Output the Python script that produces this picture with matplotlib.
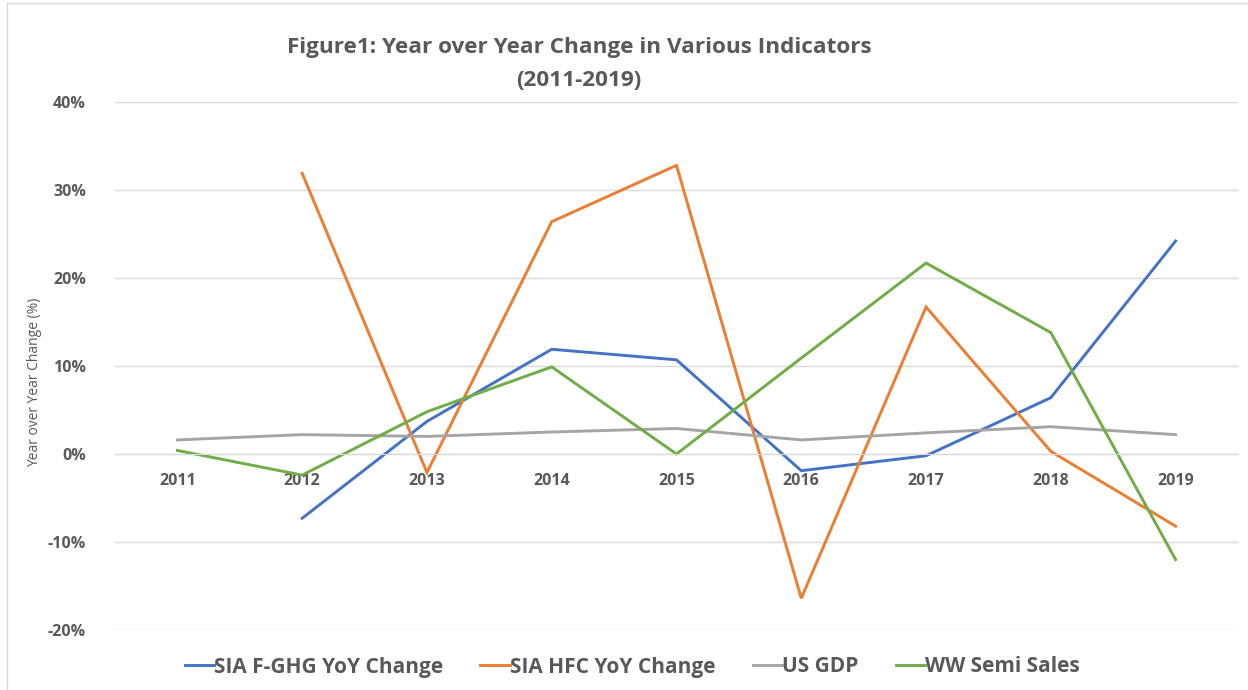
import numpy as np
import matplotlib
matplotlib.use("Agg")
import matplotlib.pyplot as plt
from matplotlib.patches import Rectangle
from matplotlib.ticker import FuncFormatter

# Data (percent year over year change)
years = [2011, 2012, 2013, 2014, 2015, 2016, 2017, 2018, 2019]
fghg = [np.nan, -7.3, 3.7, 11.9, 10.7, -1.9, -0.2, 6.4, 24.2]
hfc = [np.nan, 31.9, -2.1, 26.4, 32.8, -16.4, 16.7, 0.3, -8.2]
us_gdp = [1.6, 2.2, 2.0, 2.5, 2.9, 1.6, 2.4, 3.1, 2.2]
semi_sales = [0.4, -2.4, 4.8, 9.9, 0.0, 10.9, 21.7, 13.8, -12.0]

series_names = ['SIA F-GHG YoY Change', 'SIA HFC YoY Change', 'US GDP',
                'WW Semi Sales']
series_colors = ['#4472C4', '#ED7D31', '#A5A5A5', '#70AD47']

plt.rcParams['font.family'] = ['Open Sans', 'DejaVu Sans']
text_color = '#595959'
grid_color = '#D9D9D9'

W, H = 1248, 690
fig = plt.figure(figsize=(W / 100, H / 100), dpi=100)
ax = fig.add_axes([115 / W, 1 - 630 / H, (1238 - 115) / W, (630 - 102) / H])

x = np.arange(len(years))
for vals, name, color in zip([fghg, hfc, us_gdp, semi_sales], series_names,
                             series_colors):
    ax.plot(x, vals, color=color, lw=2.1, label=name, solid_joinstyle='miter')

ax.set_xlim(-0.5, len(years) - 0.5)
ax.set_ylim(-20, 40)
ax.set_yticks(np.arange(-20, 41, 10))
ax.yaxis.set_major_formatter(FuncFormatter(lambda v, p: f'{v:.0f}%'))
ax.set_xticks(x)
ax.set_xticklabels([str(y) for y in years])

# Gridlines, x axis sits at zero
ax.grid(axis='y', color=grid_color, lw=1)
ax.set_axisbelow(True)
for side in ['left', 'right', 'top']:
    ax.spines[side].set_visible(False)
ax.spines['bottom'].set_position(('data', 0))
ax.spines['bottom'].set_color(grid_color)
ax.tick_params(axis='both', length=0, colors=text_color)
ax.tick_params(axis='y', pad=21, labelsize=11.5)
ax.tick_params(axis='x', pad=14, labelsize=11.5)
for lbl in ax.get_xticklabels() + ax.get_yticklabels():
    lbl.set_fontweight('bold')

fig.text(35 / W, 1 - 382 / H, 'Year over Year Change (%)', rotation=90,
         ha='center', va='center', fontsize=10, color=text_color)

# Title
fig.text(579 / W, 1 - 47 / H,
         'Figure1: Year over Year Change in Various Indicators',
         ha='center', va='center', fontsize=16.2, fontweight='bold',
         color=text_color)
fig.text(579 / W, 1 - 80 / H, '(2011-2019)', ha='center', va='center',
         fontsize=16.2, fontweight='bold', color=text_color)

# Legend
leg = fig.legend(loc='center', bbox_to_anchor=(632 / W, 1 - 667 / H), ncol=4,
                 frameon=False, handlelength=1.4, handletextpad=0.0,
                 columnspacing=1.8, prop={'size': 15, 'weight': 'bold'})
for t in leg.get_texts():
    t.set_color(text_color)

# Chart area border
fig.add_artist(Rectangle((7 / W, -0.02), 1.0, 1 - 3 / H + 0.02, fill=False,
                         edgecolor=grid_color, lw=1,
                         transform=fig.transFigure))

fig.savefig('out.png', dpi=100)
